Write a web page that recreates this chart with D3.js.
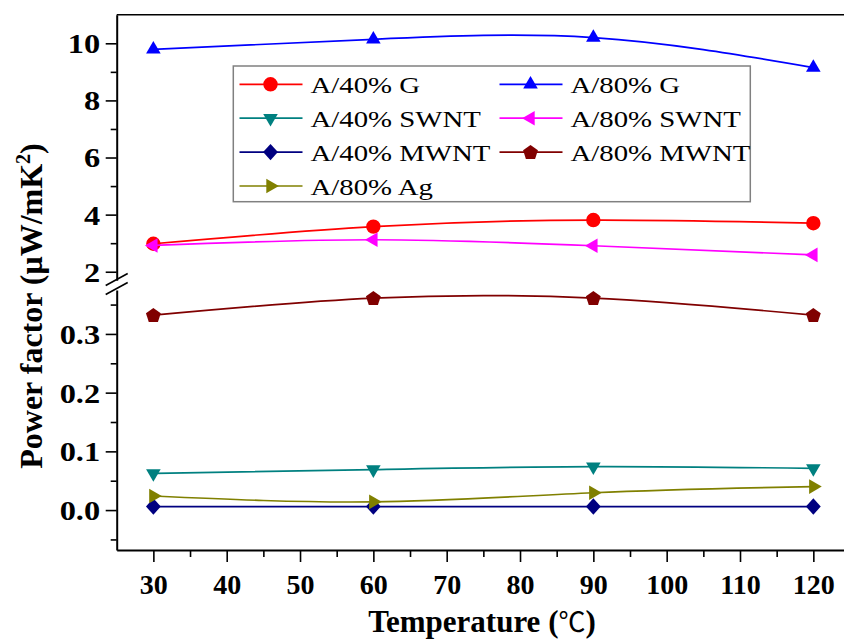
<!DOCTYPE html>
<html>
<head>
<meta charset="utf-8">
<script src="https://cdn.jsdelivr.net/npm/d3@7"></script>
<style>
  body { margin: 0; background: #fff; }
  svg { display: block; font-family: "Liberation Serif", "Times New Roman", serif; }
</style>
</head>
<body>
<div id="chart"></div>
<script>
// data
var temps = [30, 60, 90, 120];
var seriesNames = ["A/40% G", "A/80% G", "A/40% SWNT", "A/80% SWNT", "A/40% MWNT", "A/80% MWNT", "A/80% Ag"];
var pf40G = [2.98, 3.58, 3.81, 3.70];
var pf80G = [9.79, 10.14, 10.20, 9.15];
var pf40SWNT = [0.0625, 0.069, 0.074, 0.071];
var pf80SWNT = [2.92, 3.12, 2.91, 2.59];
var pf40MWNT = [0.006, 0.006, 0.006, 0.006];
var pf80MWNT = [0.332, 0.361, 0.361, 0.332];
var pf80Ag = [0.024, 0.014, 0.0295, 0.040];
var xTicks = [30, 40, 50, 60, 70, 80, 90, 100, 110, 120];
var xMinor = [35, 45, 55, 65, 75, 85, 95, 105, 115, 125];
var yTicksUpper = [2, 4, 6, 8, 10];
var yMinorUpper = [3, 5, 7, 9];
var yTicksLower = [0.0, 0.1, 0.2, 0.3];
var yMinorLower = [-0.05, 0.05, 0.15, 0.25, 0.35];

var seriesValues = [pf40G, pf80G, pf40SWNT, pf80SWNT, pf40MWNT, pf80MWNT, pf80Ag];
var seriesColors = ["#ff0000", "#0000ff", "#008080", "#ff00ff", "#000080", "#800000", "#808000"];
var seriesMarkers = ["circle", "up", "down", "left", "diamond", "pentagon", "right"];
var seriesPanel = ["upper", "upper", "lower", "upper", "lower", "lower", "lower"];

var W = 844, H = 641;
var plotL = 116.7, plotR = 850, plotT = 14.75, plotB = 550;

var svg = d3.select("#chart").append("svg")
    .attr("width", W)
    .attr("height", H);

var x = d3.scaleLinear().domain([25, 125]).range([plotL, plotR]);
var yU = d3.scaleLinear().domain([1.7, 11]).range([280.3, plotT]);
var yL = d3.scaleLinear().domain([-0.068, 0.375]).range([plotB, 289.9]);

// marker shapes
function markerPath(type) {
    var p;
    if (type == "circle") return d3.symbol(d3.symbolCircle, Math.PI * 52)();
    if (type == "up") p = [[0, -8.4], [7.3, 4.2], [-7.3, 4.2]];
    if (type == "down") p = [[0, 8.4], [7.3, -4.2], [-7.3, -4.2]];
    if (type == "left") p = [[-8.4, 0], [4.2, -7.3], [4.2, 7.3]];
    if (type == "right") p = [[8.4, 0], [-4.2, -7.3], [-4.2, 7.3]];
    if (type == "diamond") p = [[0, -8.2], [7.4, 0], [0, 8.2], [-7.4, 0]];
    if (type == "pentagon") {
        p = d3.range(5).map(function(k) {
            var a = -Math.PI / 2 + k * 2 * Math.PI / 5;
            return [7.8 * Math.cos(a), 7.8 * Math.sin(a) + 0.6];
        });
    }
    return "M" + p.join("L") + "Z";
}

// frame top line
svg.append("line")
    .attr("x1", plotL).attr("x2", plotR)
    .attr("y1", plotT).attr("y2", plotT)
    .attr("stroke", "#000").attr("stroke-width", 1.6);

// x axis
var xAxis = svg.append("g").attr("transform", "translate(0," + plotB + ")")
    .call(d3.axisBottom(x).tickValues(xTicks).tickSize(12).tickSizeOuter(0));
svg.append("g").attr("transform", "translate(0," + plotB + ")")
    .call(d3.axisBottom(x).tickValues(xMinor).tickSize(7).tickFormat("").tickSizeOuter(0))
    .select(".domain").remove();
xAxis.selectAll("text")
    .attr("y", 44).attr("dy", 0)
    .attr("font-size", 28).attr("font-weight", "bold")
    .attr("font-family", "'Liberation Serif', serif");

// y axes, broken
function yAxisPart(scale, majors, minors, fmt) {
    var g = svg.append("g").attr("transform", "translate(" + plotL + ",0)")
        .call(d3.axisLeft(scale).tickValues(majors).tickFormat(fmt).tickSize(11).tickSizeOuter(0));
    svg.append("g").attr("transform", "translate(" + plotL + ",0)")
        .call(d3.axisLeft(scale).tickValues(minors).tickFormat("").tickSize(6).tickSizeOuter(0))
        .select(".domain").remove();
    g.selectAll("text")
        .attr("x", -13.8).attr("dy", "0.35em")
        .attr("transform", "scale(1.2,1)")
        .attr("font-size", 27).attr("font-weight", "bold")
        .attr("font-family", "'Liberation Serif', serif");
    return g;
}
yAxisPart(yU, yTicksUpper, yMinorUpper, d3.format("d"));
yAxisPart(yL, yTicksLower, yMinorLower, d3.format(".1f"));

svg.selectAll(".domain").attr("stroke-width", 2);
svg.selectAll(".tick line").attr("stroke-width", 1.6);

// break marks
[279.5, 288.5].forEach(function(yy) {
    svg.append("line")
        .attr("x1", plotL - 11).attr("y1", yy + 6)
        .attr("x2", plotL + 11).attr("y2", yy - 6)
        .attr("stroke", "#000").attr("stroke-width", 1.6);
});

// series
var line = d3.line().curve(d3.curveNatural);
seriesValues.forEach(function(vals, i) {
    var ys = seriesPanel[i] == "upper" ? yU : yL;
    var pts = temps.map(function(t, j) { return [x(t), ys(vals[j])]; });
    svg.append("path")
        .attr("d", line(pts))
        .attr("fill", "none")
        .attr("stroke", seriesColors[i])
        .attr("stroke-width", 1.7);
    svg.append("g").selectAll("path")
        .data(pts)
        .enter().append("path")
        .attr("transform", function(d) { return "translate(" + d[0] + "," + d[1] + ")"; })
        .attr("d", markerPath(seriesMarkers[i]))
        .attr("fill", seriesColors[i]);
});

// legend
var legend = svg.append("g");
legend.append("rect")
    .attr("x", 233.3).attr("y", 66)
    .attr("width", 517).attr("height", 135.7)
    .attr("fill", "#fff")
    .attr("stroke", "#808080").attr("stroke-width", 1.5);
seriesNames.forEach(function(name, i) {
    var col = i % 2, row = Math.floor(i / 2);
    var lx = col == 0 ? 239.5 : 499.5;
    var ly = 84.3 + row * 33.9;
    var item = legend.append("g");
    item.append("line")
        .attr("x1", lx).attr("x2", lx + 63)
        .attr("y1", ly).attr("y2", ly)
        .attr("stroke", seriesColors[i]).attr("stroke-width", 1.7);
    item.append("path")
        .attr("transform", "translate(" + (lx + 31) + "," + ly + ")")
        .attr("d", markerPath(seriesMarkers[i]))
        .attr("fill", seriesColors[i]);
    item.append("text")
        .attr("transform", "translate(" + (lx + 71) + "," + (ly + 8.5) + ") scale(1.2,1)")
        .attr("font-size", 24)
        .text(name);
});

// axis titles
var xt = svg.append("text")
    .attr("x", 482).attr("y", 632)
    .attr("text-anchor", "middle")
    .attr("font-size", 31).attr("font-weight", "bold");
xt.append("tspan").text("Temperature (");
xt.append("tspan").attr("font-family", "'Noto Sans CJK SC', sans-serif")
    .attr("font-weight", "normal").attr("font-size", 27).text("℃");
xt.append("tspan").text(")");

var yt = svg.append("text")
    .attr("transform", "translate(42,306) rotate(-90)")
    .attr("text-anchor", "middle")
    .attr("font-size", 32).attr("font-weight", "bold");
yt.append("tspan").text("Power factor (μW/mK");
yt.append("tspan").attr("font-size", 20).attr("dy", -12).text("2");
yt.append("tspan").attr("dy", 12).text(")");
</script>
</body>
</html>
